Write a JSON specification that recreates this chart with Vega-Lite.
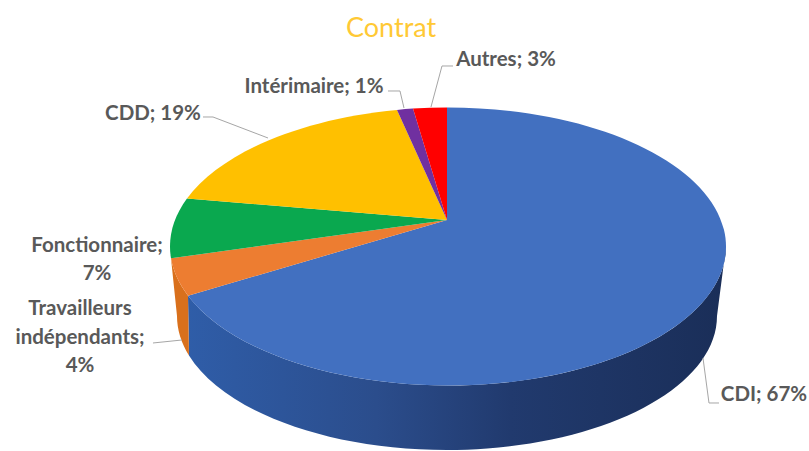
{
"$schema":"https://vega.github.io/schema/vega-lite/v6.json",
"width":809,"height":451,"padding":0,"autosize":{"type":"none"},
"background":"white",
"title":{"text":"Contrat","font":"Lato","fontSize":27,"fontWeight":"normal","color":"#ffc935","anchor":"start","frame":"group","dx":346,"offset":-70,"baseline":"bottom"},
"config":{"view":{"stroke":null},"axis":{"domain":false}},
"data":{"values":[
{"category":"CDI","value":67,"label":"CDI; 67%"},
{"category":"Travailleurs indépendants","value":4,"label":"Travailleurs\nindépendants;\n4%"},
{"category":"Fonctionnaire","value":7,"label":"Fonctionnaire;\n7%"},
{"category":"CDD","value":19,"label":"CDD; 19%"},
{"category":"Intérimaire","value":1,"label":"Intérimaire; 1%"},
{"category":"Autres","value":3,"label":"Autres; 3%"}
]},
"encoding":{
"x":{"datum":0,"type":"quantitative","scale":{"domain":[-1.60791,1.30216]},"axis":null},
"y":{"datum":0,"type":"quantitative","scale":{"domain":[-1.66187,1.58273]},"axis":null}
},
"resolve":{"scale":{"shape":"independent"}},
"layer":[
{"transform":[{"filter":"datum.category==='CDI'"}],
 "mark":{"type":"point","filled":true,"opacity":1,"size":4,"strokeWidth":0,"shape":"M279 26.5L270 96A270 134 0 0 1 -258 135.5L-259 75.7A278 139 0 0 0 279 26.5Z",
 "fill":{"gradient":"linear","x1":0,"x2":1,"y1":0,"y2":0,"stops":[{"offset":0,"color":"#2f5da8"},{"offset":0.35,"color":"#2b4d8c"},{"offset":0.6,"color":"#213a6e"},{"offset":1,"color":"#1a2e58"}]}}},
{"transform":[{"filter":"datum.category==='Travailleurs indépendants'"}],
 "mark":{"type":"point","filled":true,"opacity":1,"size":4,"strokeWidth":0,"fill":"#d9701c","shape":"M-276 38.3L-270 96A270 134 0 0 0 -258 135.5L-259 75.7A278 139 0 0 1 -276 38.3Z"}},
{"mark":{"type":"point","filled":true,"opacity":1,"size":4,"strokeWidth":0},
 "encoding":{
  "color":{"field":"category","type":"nominal","legend":null,"scale":{"domain":["CDI","Travailleurs indépendants","Fonctionnaire","CDD","Intérimaire","Autres"],"range":["#4270c0","#ed7d31","#0aa84f","#ffc000","#7030a0","#ff0000"]}},
  "shape":{"field":"category","type":"nominal","legend":null,"scale":{"domain":["CDI","Travailleurs indépendants","Fonctionnaire","CDD","Intérimaire","Autres"],"range":[
   "M0 0L0 -112.5A278 139 0 1 1 -259 75.7Z",
   "M0 0L-259 75.7A278 139 0 0 1 -276 38.3Z",
   "M0 0L-276 38.3A278 139 0 0 1 -260 -21.4Z",
   "M0 0L-260 -21.4A278 139 0 0 1 -50 -110.1Z",
   "M0 0L-50 -110.1A278 139 0 0 1 -34 -111.4Z",
   "M0 0L-34 -111.4A278 139 0 0 1 0 -112.5Z"]}}
 }},
{"transform":[{"filter":"datum.category!=='Fonctionnaire'"}],
 "mark":{"type":"point","filled":false,"opacity":1,"size":4,"strokeWidth":1,"stroke":"#a6a6a6","fill":"transparent"},
 "encoding":{
  "shape":{"field":"category","type":"nominal","legend":null,"scale":{"domain":["CDI","Travailleurs indépendants","CDD","Intérimaire","Autres"],"range":[
   "M256 138L262 183L272 183",
   "M-294 123L-265 120",
   "M-244 -103L-234 -103L-179 -82",
   "M-59 -129L-47 -129L-43 -112",
   "M6 -154L-5 -154L-16 -113"]}}
 }},
{"transform":[{"filter":"datum.category==='Autres'"}],"mark":{"type":"text","font":"Lato","fontSize":20.5,"fontWeight":"bold","color":"#595959","align":"center","baseline":"middle","lineBreak":"\n","lineHeight":28.5},
 "encoding":{"text":{"field":"label"},"x":{"datum":0.2122,"type":"quantitative"},"y":{"datum":1.1511,"type":"quantitative"}}},
{"transform":[{"filter":"datum.category==='Intérimaire'"}],"mark":{"type":"text","font":"Lato","fontSize":20.5,"fontWeight":"bold","color":"#595959","align":"center","baseline":"middle","lineBreak":"\n","lineHeight":28.5},
 "encoding":{"text":{"field":"label"},"x":{"datum":-0.4784,"type":"quantitative"},"y":{"datum":0.9568,"type":"quantitative"}}},
{"transform":[{"filter":"datum.category==='CDD'"}],"mark":{"type":"text","font":"Lato","fontSize":20.5,"fontWeight":"bold","color":"#595959","align":"center","baseline":"middle","lineBreak":"\n","lineHeight":28.5},
 "encoding":{"text":{"field":"label"},"x":{"datum":-1.0576,"type":"quantitative"},"y":{"datum":0.7626,"type":"quantitative"}}},
{"transform":[{"filter":"datum.category==='Fonctionnaire'"}],"mark":{"type":"text","font":"Lato","fontSize":20.5,"fontWeight":"bold","color":"#595959","align":"center","baseline":"middle","lineBreak":"\n","lineHeight":28.5},
 "encoding":{"text":{"field":"label"},"x":{"datum":-1.259,"type":"quantitative"},"y":{"datum":-0.1835,"type":"quantitative"}}},
{"transform":[{"filter":"datum.category==='Travailleurs indépendants'"}],"mark":{"type":"text","font":"Lato","fontSize":20.5,"fontWeight":"bold","color":"#595959","align":"center","baseline":"middle","lineBreak":"\n","lineHeight":28.5},
 "encoding":{"text":{"field":"label"},"x":{"datum":-1.3201,"type":"quantitative"},"y":{"datum":-0.6403,"type":"quantitative"}}},
{"transform":[{"filter":"datum.category==='CDI'"}],"mark":{"type":"text","font":"Lato","fontSize":20.5,"fontWeight":"bold","color":"#595959","align":"center","baseline":"middle","lineBreak":"\n","lineHeight":28.5},
 "encoding":{"text":{"field":"label"},"x":{"datum":1.1403,"type":"quantitative"},"y":{"datum":-1.259,"type":"quantitative"}}}
]
}
